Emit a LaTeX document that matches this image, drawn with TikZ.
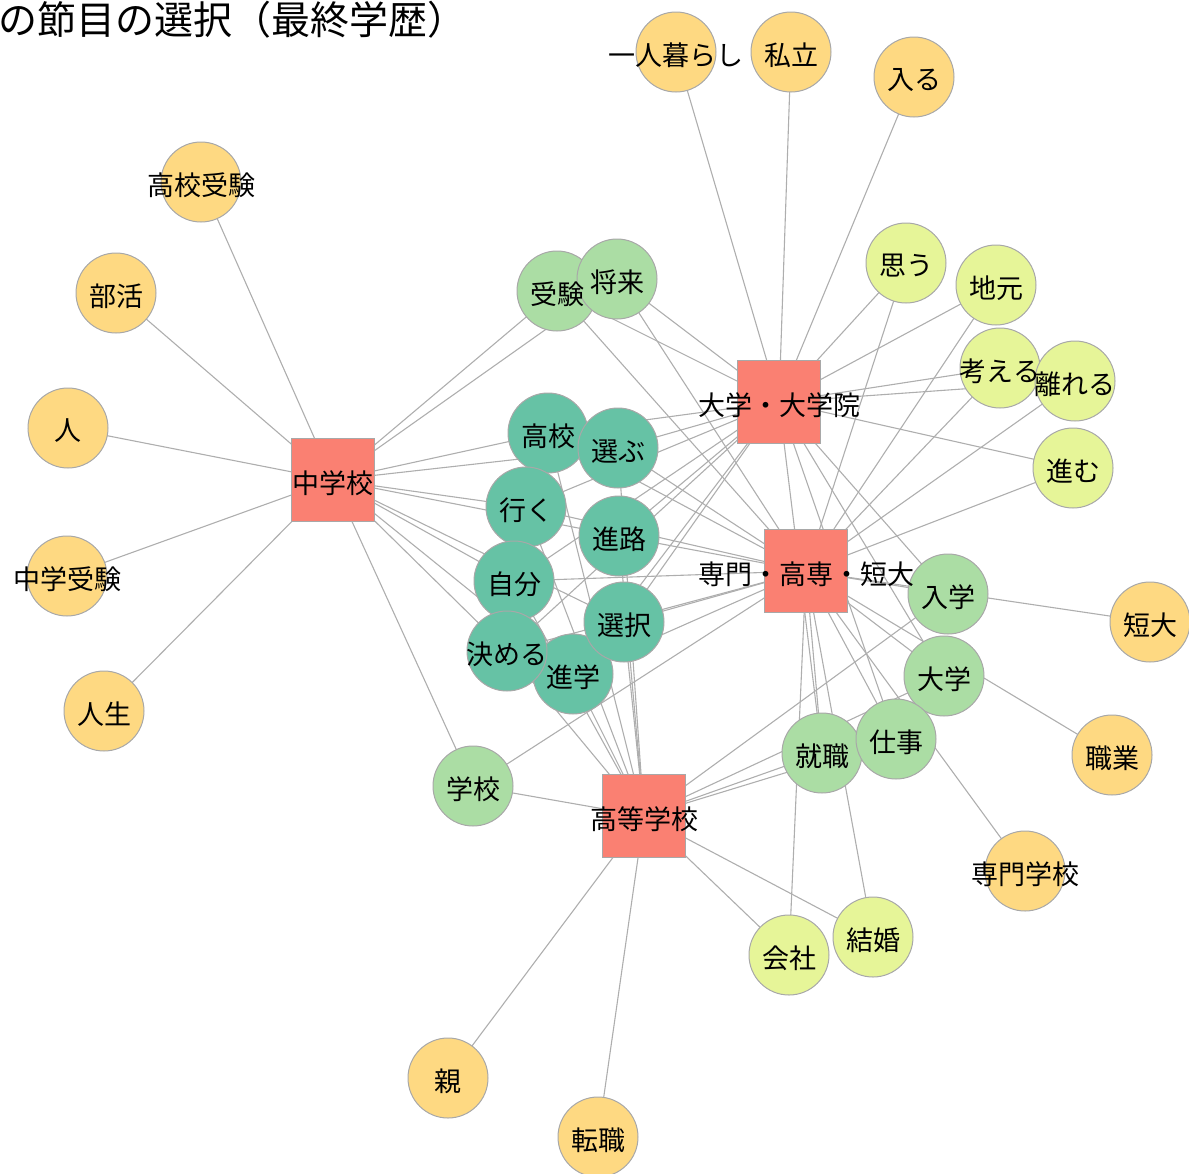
\documentclass[tikz,border=0pt]{standalone}
\usepackage{fontspec}
\setmainfont{Noto Sans CJK JP}
\definecolor{sqc}{RGB}{250,128,114}
\definecolor{cone}{RGB}{254,217,130}
\definecolor{ctwo}{RGB}{230,245,152}
\definecolor{cthree}{RGB}{171,221,164}
\definecolor{cfour}{RGB}{102,194,165}
\definecolor{edgec}{RGB}{174,174,174}
\definecolor{bord}{RGB}{168,168,168}
\tikzset{
  edge/.style={draw=edgec, line width=1.1pt},
  sqbox/.style={rectangle, draw=bord, line width=1pt, fill=sqc, minimum size=83pt, inner sep=0pt},
  wbox/.style={circle, draw=bord, line width=1pt, minimum size=80pt, inner sep=0pt},
  lab/.style={font=\fontsize{27}{27}\selectfont, inner sep=0pt, text=black},
}
\begin{document}
\begin{tikzpicture}[x=1pt,y=-1pt]
\useasboundingbox (0,0) rectangle (1189,1173);
% squares
\coordinate (chu) at (333,480);
\coordinate (dai) at (779,402);
\coordinate (sen) at (806,571);
\coordinate (kou) at (644,816);
% orange
\coordinate (hitori) at (676,52);
\coordinate (shiritsu) at (791,52);
\coordinate (hairu) at (914,77);
\coordinate (koujuken) at (201,182);
\coordinate (bukatsu) at (116,293);
\coordinate (hito) at (68,428);
\coordinate (chujuken) at (67,576);
\coordinate (jinsei) at (104,711);
\coordinate (tandai) at (1150,622);
\coordinate (shokugyo) at (1112,755);
\coordinate (senmon) at (1025,871);
\coordinate (oya) at (448,1078);
\coordinate (tenshoku) at (598,1137);
% yellow green
\coordinate (omou) at (906,263);
\coordinate (jimoto) at (996,285);
\coordinate (kangaeru) at (1000,368);
\coordinate (hanareru) at (1075,381);
\coordinate (susumu) at (1073,468);
\coordinate (kaisha) at (789,955);
\coordinate (kekkon) at (873,937);
% light green
\coordinate (juken) at (557,291);
\coordinate (shourai) at (617,279);
\coordinate (gakkou) at (473,786);
\coordinate (nyugaku) at (948,594);
\coordinate (daigaku) at (944,676);
\coordinate (shigoto) at (896,739);
\coordinate (shushoku) at (822,753);
% teal
\coordinate (koukou) at (548,433);
\coordinate (erabu) at (618,448);
\coordinate (iku) at (526,507);
\coordinate (shinro) at (619,536);
\coordinate (jibun) at (514,581);
\coordinate (sentaku) at (624,622);
\coordinate (kimeru) at (507,651);
\coordinate (shingaku) at (573,674);
% edges
\foreach \a/\b in {hitori/dai,shiritsu/dai,hairu/dai,
  koujuken/chu,bukatsu/chu,hito/chu,chujuken/chu,jinsei/chu,
  tandai/sen,shokugyo/sen,senmon/sen,oya/kou,tenshoku/kou,
  omou/dai,omou/sen,jimoto/dai,jimoto/sen,kangaeru/dai,kangaeru/sen,
  hanareru/dai,hanareru/sen,susumu/dai,susumu/sen,
  kaisha/kou,kaisha/sen,kekkon/kou,kekkon/sen,
  juken/chu,juken/dai,juken/sen,shourai/chu,shourai/dai,shourai/sen,
  gakkou/chu,gakkou/kou,gakkou/sen,
  nyugaku/dai,nyugaku/sen,nyugaku/kou,daigaku/dai,daigaku/sen,daigaku/kou,
  shigoto/dai,shigoto/sen,shigoto/kou,shushoku/dai,shushoku/sen,shushoku/kou}
  \draw[edge] (\a) -- (\b);
\foreach \a in {koukou,erabu,iku,shinro,jibun,sentaku,kimeru,shingaku}
  \foreach \b in {chu,dai,sen,kou}
    \draw[edge] (\a) -- (\b);
% shapes
\foreach \n in {chu,dai,sen,kou}
  \node[sqbox] (\n-s) at (\n) {};
\foreach \n in {hitori,shiritsu,hairu,koujuken,bukatsu,hito,chujuken,jinsei,tandai,shokugyo,senmon,oya,tenshoku}
  \node[wbox, fill=cone] (\n-s) at (\n) {};
\foreach \n in {omou,jimoto,kangaeru,hanareru,susumu,kaisha,kekkon}
  \node[wbox, fill=ctwo] (\n-s) at (\n) {};
\foreach \n in {juken,shourai,gakkou,nyugaku,daigaku,shushoku,shigoto}
  \node[wbox, fill=cthree] (\n-s) at (\n) {};
\foreach \n in {koukou,erabu,iku,jibun,shinro,shingaku,kimeru,sentaku}
  \node[wbox, fill=cfour] (\n-s) at (\n) {};
% labels
\foreach \n/\t in {chu/中学校,dai/大学・大学院,sen/専門・高専・短大,kou/高等学校,
  hitori/一人暮らし,shiritsu/私立,hairu/入る,koujuken/高校受験,bukatsu/部活,hito/人,
  chujuken/中学受験,jinsei/人生,tandai/短大,shokugyo/職業,senmon/専門学校,oya/親,tenshoku/転職,
  omou/思う,jimoto/地元,kangaeru/考える,hanareru/離れる,susumu/進む,kaisha/会社,kekkon/結婚,
  juken/受験,shourai/将来,gakkou/学校,nyugaku/入学,daigaku/大学,shigoto/仕事,shushoku/就職,
  koukou/高校,erabu/選ぶ,iku/行く,shinro/進路,jibun/自分,sentaku/選択,kimeru/決める,shingaku/進学}
  \node[lab] (\n-t) at ([yshift=-3pt]\n) {\t};
% title
\node[anchor=north west, inner sep=0pt, font=\fontsize{39}{39}\selectfont] (title) at (-2,1) {の節目の選択（最終学歴）};
\end{tikzpicture}
\end{document}
